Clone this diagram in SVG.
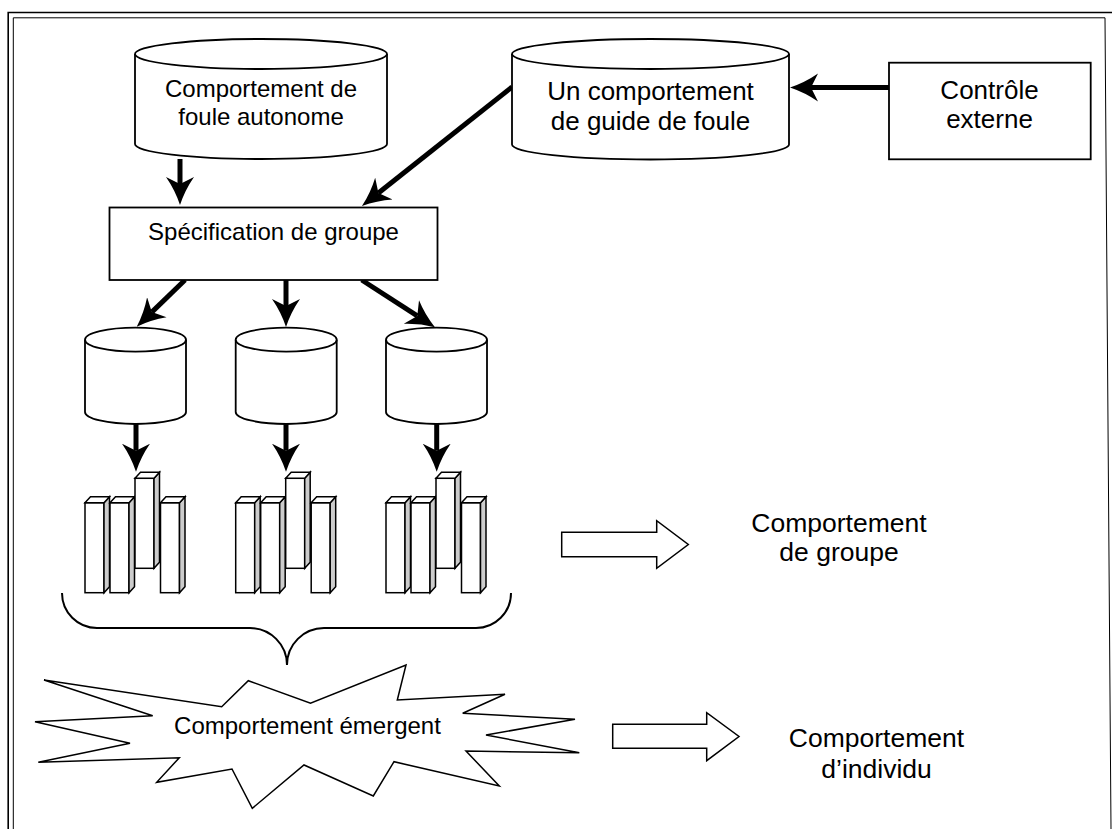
<svg xmlns="http://www.w3.org/2000/svg" xmlns:xlink="http://www.w3.org/1999/xlink" width="1112" height="829" viewBox="0 0 1112 829">
<style>
.shape{fill:#fff;stroke:#000;stroke-width:1.8}
.thin{fill:#fff;stroke:#000;stroke-width:1.5}
.conn{fill:none;stroke:#000;stroke-width:5;marker-end:url(#ah)}
.t24{font-family:"Liberation Sans",Arial,sans-serif;font-size:24px;fill:#000;text-anchor:middle}
.t26{font-family:"Liberation Sans",Arial,sans-serif;font-size:26px;fill:#000;text-anchor:middle}
.t265{font-family:"Liberation Sans",Arial,sans-serif;font-size:26.5px;fill:#000;text-anchor:middle}
</style>
<defs>
<marker id="ah" markerUnits="userSpaceOnUse" markerWidth="28" markerHeight="30" viewBox="0 -15 28 30" refX="7" refY="0" orient="auto">
<path d="M28,0 Q13,-5 0,-14 L7,0 L0,14 Q13,5 28,0 Z" fill="#000"/>
</marker>
<g id="bar" stroke="#000" stroke-width="1.5" stroke-linejoin="miter">
<rect x="0" y="0" width="19" height="90" fill="#fff"/>
<polygon points="19,0 24.5,-6 24.5,84 19,90" fill="#cccccc"/>
<polygon points="0,0 5.5,-6 24.5,-6 19,0" fill="#fff"/>
</g>
<g id="bars">
<use xlink:href="#bar" x="85" y="502.7"/>
<use xlink:href="#bar" x="110" y="502.7"/>
<use xlink:href="#bar" x="135" y="478.3"/>
<use xlink:href="#bar" x="160.5" y="502.7"/>
</g>
<g id="smallcyl">
<path d="M-50.5,0 V72.3 A50.5,12 0 0 0 50.5,72.3 V0" class="shape"/>
<ellipse cx="0" cy="0" rx="50.5" ry="12" class="shape"/>
</g>
</defs>
<rect width="1112" height="829" fill="#fff"/>
<g id="border" fill="none" stroke="#000">
<path d="M8.2,829 V12.5 H1112" stroke-width="1.6"/>
<path d="M13.3,829 V17.8 H1105 L1111,829" stroke-width="1"/>
</g>
<g id="connectors">
<line x1="180" y1="159" x2="180" y2="184" class="conn"/>
<line x1="512" y1="87" x2="378.4" y2="193" class="conn"/>
<line x1="889" y1="87.5" x2="811" y2="87.5" class="conn"/>
<line x1="185" y1="280" x2="151.8" y2="312.1" class="conn"/>
<line x1="286" y1="280" x2="286" y2="306" class="conn"/>
<line x1="361.7" y1="280" x2="417.3" y2="315.9" class="conn"/>
<line x1="136" y1="424" x2="136" y2="450.7" class="conn"/>
<line x1="286" y1="424" x2="286" y2="450.7" class="conn"/>
<line x1="436.7" y1="424" x2="436.7" y2="450.7" class="conn"/>
</g>
<g id="cyl-autonome">
<path d="M135,54 V144 A126,15 0 0 0 387,144 V54" class="shape"/>
<ellipse cx="261" cy="54" rx="126" ry="15" class="shape"/>
<text class="t24" x="261" y="97.3">Comportement de</text>
<text class="t24" x="261" y="125.3">foule autonome</text>
</g>
<g id="cyl-guide">
<path d="M512,54 V144.5 A138.5,15 0 0 0 789,144.5 V54" class="shape"/>
<ellipse cx="650.5" cy="54" rx="138.5" ry="15" class="shape"/>
<text class="t26" x="650.5" y="100">Un comportement</text>
<text class="t26" x="650.5" y="130">de guide de foule</text>
</g>
<g id="controle">
<rect x="889" y="62.7" width="201.7" height="96.6" class="shape"/>
<text class="t26" x="989.5" y="99">Contrôle</text>
<text class="t26" x="989.5" y="128.3">externe</text>
</g>
<g id="specification">
<rect x="109.5" y="207.5" width="328" height="72.5" class="shape"/>
<text class="t24" x="273.5" y="240">Spécification de groupe</text>
</g>
<g id="cyl-1"><use xlink:href="#smallcyl" x="135.5" y="339.7"/></g>
<g id="cyl-2"><use xlink:href="#smallcyl" x="286.2" y="339.7"/></g>
<g id="cyl-3"><use xlink:href="#smallcyl" x="436.5" y="339.7"/></g>
<g id="bars-1"><use xlink:href="#bars" x="0" y="0"/></g>
<g id="bars-2"><use xlink:href="#bars" x="150.7" y="0"/></g>
<g id="bars-3"><use xlink:href="#bars" x="301" y="0"/></g>
<g id="brace">
<path d="M62,593 A35,35 0 0 0 97,628 L250,628 A37,37 0 0 1 287,665 A37,37 0 0 1 324,628 L476,628 A35,35 0 0 0 511,593" fill="none" stroke="#000" stroke-width="2"/>
</g>
<g id="arrow-groupe">
<polygon points="561.7,532.3 656.7,532.3 656.7,520.7 688.3,544.5 656.7,568.3 656.7,556.7 561.7,556.7" class="thin"/>
</g>
<g id="label-groupe">
<text class="t265" x="839" y="531.7">Comportement</text>
<text class="t265" x="839" y="561">de groupe</text>
</g>
<g id="emergent">
<polygon points="44,680 221.7,706.7 248.3,680.7 310.5,703.3 406,665 397.3,700 505,694.3 462.7,713.3 575,719.3 486,735 579.3,752.7 466,751 499.3,786 394,761.7 373.3,796 304,765 252.3,808.3 232,769 156.7,782.3 179.3,757.7 38.3,762.3 130,743.3 35,721.7 152.7,715.7" class="thin"/>
<text class="t24" x="307.5" y="734">Comportement émergent</text>
</g>
<g id="arrow-individu">
<polygon points="612.7,724.3 706.7,724.3 706.7,712.7 739,736.5 706.7,760.7 706.7,748.3 612.7,748.3" class="thin"/>
</g>
<g id="label-individu">
<text class="t265" x="876.5" y="747">Comportement</text>
<text class="t265" x="876.5" y="777.5">d’individu</text>
</g>
</svg>
